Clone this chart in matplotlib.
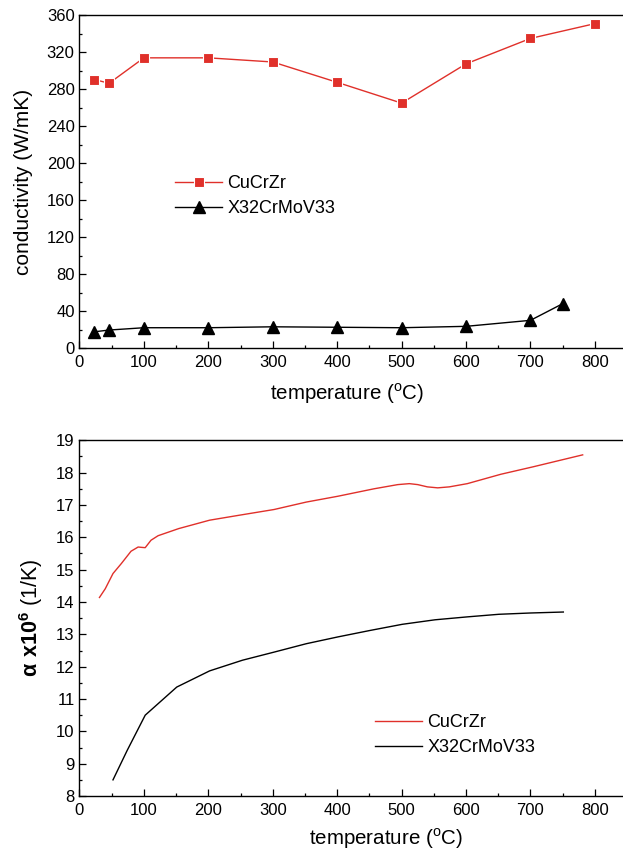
import matplotlib
matplotlib.use("Agg")
import matplotlib.pyplot as plt
from matplotlib.ticker import MultipleLocator

plt.rcParams['font.family'] = ['Liberation Sans', 'DejaVu Sans']
plt.rcParams['mathtext.fontset'] = 'custom'
plt.rcParams['mathtext.rm'] = 'Liberation Sans'
plt.rcParams['mathtext.bf'] = 'Liberation Sans:bold'

RED = '#e0302a'

# thermal conductivity, measured points
temp_cu = [23, 46, 100, 200, 300, 400, 500, 600, 700, 800]
cond_cu = [290.5, 286.5, 314, 314, 309.5, 287.5, 265, 307.5, 335, 351]
temp_steel = [23, 46, 100, 200, 300, 400, 500, 600, 700, 750]
cond_steel = [17.6, 19.5, 22, 22, 23, 22.5, 22, 23.5, 30, 48]

# thermal expansion coefficient curves
temp_alpha_cu = [31, 40, 52, 65, 80, 91, 96, 102, 111, 122, 154, 202, 247, 302, 352,
                 401, 457, 494, 512, 525, 540, 556, 574, 602, 654, 704, 781]
alpha_cu = [14.14, 14.41, 14.88, 15.19, 15.57, 15.70, 15.69, 15.68, 15.91, 16.05, 16.27,
            16.53, 16.68, 16.86, 17.09, 17.27, 17.50, 17.63, 17.66, 17.63, 17.56, 17.53,
            17.56, 17.66, 17.95, 18.18, 18.55]
temp_alpha_steel = [52, 74, 102, 151, 202, 253, 302, 352, 401, 451, 501, 552, 602, 651, 700, 751]
alpha_steel = [8.5, 9.41, 10.5, 11.37, 11.87, 12.2, 12.45, 12.71, 12.92, 13.12, 13.31,
               13.45, 13.54, 13.62, 13.66, 13.69]

fig = plt.figure(figsize=(6.23, 8.51), dpi=100)
ax1 = fig.add_axes([0.1276, 0.591, 0.879, 0.391])
ax2 = fig.add_axes([0.1276, 0.0646, 0.879, 0.418])


def style_axis(ax, label_pos):
    ax.set_xlim(0, 850)
    ax.xaxis.set_major_locator(MultipleLocator(100))
    ax.xaxis.set_minor_locator(MultipleLocator(50))
    ax.tick_params(which='both', direction='in', labelsize=12, width=0.9)
    ax.tick_params(which='major', length=5)
    ax.tick_params(which='minor', length=2.5)
    ax.tick_params(axis='x', pad=5)
    for s in ax.spines.values():
        s.set_linewidth(1.0)
    ax.set_xlabel('temperature ($^{\\mathrm{o}}$C)', fontsize=14.8)
    ax.xaxis.set_label_coords(*label_pos)


# conductivity
ax1.plot(temp_cu, cond_cu, '-s', color=RED, lw=1.0, ms=7, mfc=RED,
         mec='white', mew=0.8, label='CuCrZr')
ax1.plot(temp_steel, cond_steel, '-^', color='black', lw=1.0, ms=8,
         label='X32CrMoV33')
ax1.set_ylim(0, 360)
ax1.yaxis.set_major_locator(MultipleLocator(40))
ax1.yaxis.set_minor_locator(MultipleLocator(20))
style_axis(ax1, (0.488, -0.1))
ax1.set_ylabel('conductivity (W/mK)', fontsize=15, labelpad=10)
ax1.legend(loc='upper left', bbox_to_anchor=(0.281, 0.794), bbox_transform=fig.transFigure,
           frameon=False, fontsize=13, borderpad=0, borderaxespad=0,
           handlelength=2.6, handletextpad=0.3, labelspacing=0.45)

# expansion coefficient
ax2.plot(temp_alpha_cu, alpha_cu, color=RED, lw=1.0, label='CuCrZr')
ax2.plot(temp_alpha_steel, alpha_steel, color='black', lw=1.0, label='X32CrMoV33')
ax2.set_ylim(8, 19)
ax2.yaxis.set_major_locator(MultipleLocator(1))
ax2.yaxis.set_minor_locator(MultipleLocator(0.5))
style_axis(ax2, (0.56, -0.084))
ax2.set_ylabel(r'$\mathbf{\alpha\ x10^6}$ (1/K)', fontsize=15.5, labelpad=8)
ax2.legend(loc='upper left', bbox_to_anchor=(0.602, 0.161), bbox_transform=fig.transFigure,
           frameon=False, fontsize=13, borderpad=0, borderaxespad=0,
           handlelength=2.6, handletextpad=0.3, labelspacing=0.45)

fig.savefig('out.png', dpi=100)
